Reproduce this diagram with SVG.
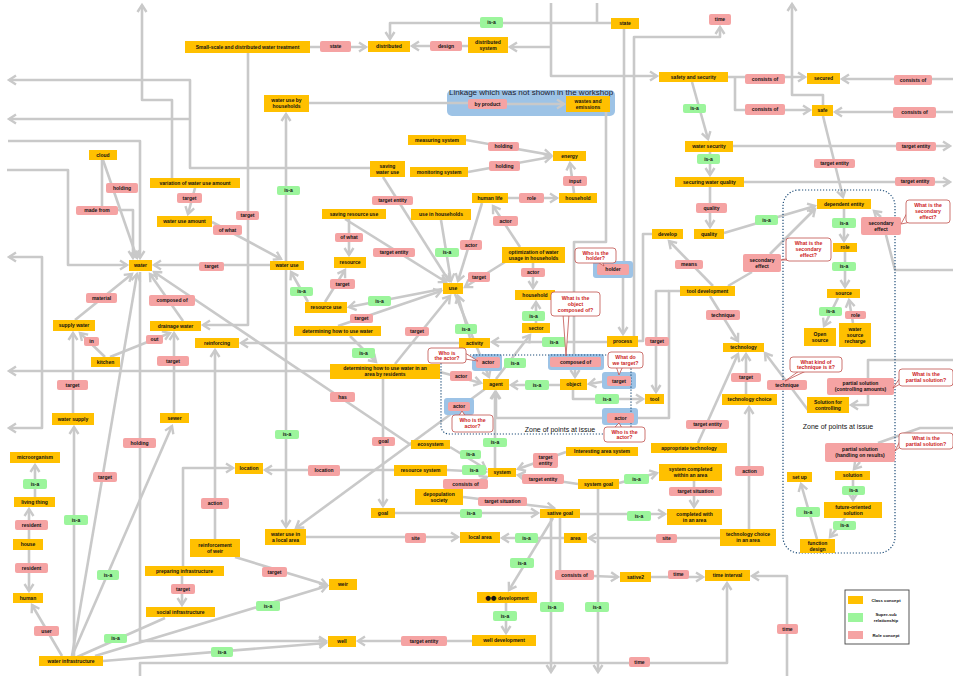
<svg xmlns="http://www.w3.org/2000/svg" width="953" height="676" viewBox="0 0 953 676">
<defs>
<marker id="ah" markerUnits="userSpaceOnUse" markerWidth="12" markerHeight="12" refX="9" refY="6" orient="auto"><path d="M2,1.5 L9,6 L2,10.5" fill="none" stroke="#c9c9c9" stroke-width="2.4"/></marker>
<marker id="ahs" markerUnits="userSpaceOnUse" markerWidth="12" markerHeight="12" refX="9" refY="6" orient="auto-start-reverse"><path d="M2,1.5 L9,6 L2,10.5" fill="none" stroke="#c9c9c9" stroke-width="2.4"/></marker>
<style>
.e{fill:none;stroke:#c9c9c9;stroke-width:2.6;stroke-linejoin:round}
.a{marker-end:url(#ah)}
.c rect{fill:#FFC000}
.r rect{fill:#F5A3A3;rx:2px}
.s rect{fill:#9CF59C;rx:2px}
.hl{fill:#9DC3E6}
text{font-family:"Liberation Sans",Arial,sans-serif}
.n text{font-size:5px;font-weight:bold;text-anchor:middle;fill:#111}
.q rect,.q polygon{fill:#fff;stroke:#C0504D;stroke-width:0.8}
.q text{font-size:5.2px;font-weight:bold;text-anchor:middle;fill:#CC2222}
.zone{fill:none;stroke:#1F4E79;stroke-width:1.2;stroke-dasharray:1.2 1.8}
.zt{font-size:7px;fill:#111;text-anchor:middle}
.lg text{font-size:4.3px;font-weight:bold;fill:#111;text-anchor:middle}
</style>
</defs>
<rect width="953" height="676" fill="#fff"/>

<!-- linkage band -->
<g id="linkage">
<rect x="447" y="90" width="168" height="26" rx="5" class="hl"/>
<text x="449" y="95" font-size="8" fill="#1a1a2e">Linkage which was not shown in the workshop</text>
</g>

<g id="connectors">
<path class="e a" d="M172,178 V100 H142 V5"/>
<path class="e a" d="M370,168 H190 V80 H9"/>
<path class="e a" d="M190,119 H9"/>
<path class="e a" d="M8,141 H140 V258"/>
<path class="e a" d="M7,170 H68 V265 H127"/>
<path class="e a" d="M118,210 H133 V258"/>
<path class="e a" d="M103,160 L137,258"/>
<path class="e" d="M102,160 V206"/>
<path class="e a" d="M195,188 L188,214"/>
<path class="e a" d="M212,222 L281,259"/>
<path class="e a" d="M248,53 V325 H203"/>
<path class="e a" d="M270,265 H154"/>
<path class="e a" d="M286,261 V114"/>
<path class="e a" d="M286,270 V527"/>
<path class="e a" d="M308,302 L291,272"/>
<path class="e" d="M309,103 H468"/>
<path class="e a" d="M507,104 H564"/>
<path class="e" d="M606,112 V242 H574 V354"/>
<path class="e a" d="M575,370 V377"/>
<path class="e a" d="M310,47 H366"/>
<path class="e a" d="M468,46 H412"/>
<path class="e a" d="M611,23 H390 V39"/>
<path class="e" d="M597,3 V23"/>
<path class="e a" d="M551,3 V76 H657"/>
<path class="e a" d="M551,47 H510"/>
<path class="e" d="M624,29 V261"/>
<path class="e a" d="M623,278 V334"/>
<path class="e a" d="M634,336 V37 H720 V27"/>
<path class="e a" d="M728,77 H805"/>
<path class="e a" d="M735,77 V110 H810"/>
<path class="e a" d="M953,79 H842"/>
<path class="e a" d="M953,112 H835"/>
<path class="e a" d="M823,105 V95 H792 V4"/>
<path class="e a" d="M823,116 L843,197"/>
<path class="e a" d="M733,146 H950"/>
<path class="e a" d="M744,182 H950"/>
<path class="e a" d="M692,82 L708,139"/>
<path class="e a" d="M710,152 V175"/>
<path class="e a" d="M710,187 V227"/>
<path class="e a" d="M724,233 L815,206"/>
<path class="e a" d="M770,254 L815,209"/>
<path class="e a" d="M713,286 L669,241"/>
<path class="e" d="M728,286 L752,272"/>
<path class="e a" d="M844,209 V241"/>
<path class="e a" d="M845,252 V287"/>
<path class="e a" d="M838,298 L824,326"/>
<path class="e a" d="M853,323 L849,300"/>
<path class="e a" d="M881,217 L874,211"/>
<path class="e" d="M886,235 L895,270 H953"/>
<path class="e a" d="M466,140 L551,155"/>
<path class="e a" d="M468,172 L551,157"/>
<path class="e a" d="M574,193 L570,163"/>
<path class="e a" d="M508,198 H557"/>
<path class="e a" d="M520,247 L493,206"/>
<path class="e a" d="M533,263 V288"/>
<path class="e a" d="M536,323 V302"/>
<path class="e a" d="M496,379 L530,335"/>
<path class="e a" d="M607,342 H492"/>
<path class="e a" d="M470,338 L458,296"/>
<path class="e a" d="M560,385 H511"/>
<path class="e a" d="M607,381 L589,384"/>
<path class="e a" d="M573,390 V399 H643"/>
<path class="e a" d="M602,418 H496 V392"/>
<path class="e" d="M680,291 H669 V418 H638"/>
<path class="e a" d="M669,291 H656 V392"/>
<path class="e" d="M652,234 H643 V341 H638"/>
<path class="e a" d="M383,177 L449,281"/>
<path class="e a" d="M349,219 V255"/>
<path class="e a" d="M345,219 L446,282"/>
<path class="e a" d="M441,220 L451,281"/>
<path class="e a" d="M482,203 L458,281"/>
<path class="e a" d="M505,262 L465,287"/>
<path class="e a" d="M395,364 L450,296"/>
<path class="e a" d="M442,289 L349,307"/>
<path class="e a" d="M338,326 L441,291"/>
<path class="e a" d="M325,302 L345,270"/>
<path class="e a" d="M350,336 L376,362"/>
<path class="e a" d="M383,379 V506"/>
<path class="e a" d="M330,371 H9"/>
<path class="e a" d="M459,343 H241"/>
<path class="e a" d="M411,445 L154,272"/>
<path class="e a" d="M450,447 L486,469"/>
<path class="e a" d="M455,294 L489,377"/>
<path class="e a" d="M440,372 L481,383"/>
<path class="e a" d="M485,389 L296,528"/>
<path class="e a" d="M495,468 V392"/>
<path class="e a" d="M447,470 L486,472"/>
<path class="e a" d="M394,470 H265"/>
<path class="e a" d="M460,489 L487,477"/>
<path class="e a" d="M566,452 L518,469"/>
<path class="e a" d="M578,484 L518,475"/>
<path class="e a" d="M619,483 L657,473"/>
<path class="e a" d="M694,481 V507"/>
<path class="e a" d="M580,514 H665"/>
<path class="e a" d="M395,513 H538"/>
<path class="e a" d="M463,497 L554,508"/>
<path class="e a" d="M553,518 L509,590"/>
<path class="e a" d="M506,603 V633"/>
<path class="e a" d="M472,641 H358"/>
<path class="e a" d="M551,518 V672"/>
<path class="e a" d="M598,489 V672"/>
<path class="e" d="M560,518 V570"/>
<path class="e a" d="M594,576 L618,577"/>
<path class="e a" d="M651,577 H703"/>
<path class="e a" d="M787,676 V576 H752"/>
<path class="e a" d="M140,676 V663 H727 V583"/>
<path class="e a" d="M140,272 V641 H326"/>
<path class="e a" d="M306,537 H458"/>
<path class="e a" d="M564,538 H502"/>
<path class="e a" d="M720,538 H589"/>
<path class="e a" d="M749,529 V407"/>
<path class="e a" d="M746,394 V354"/>
<path class="e a" d="M710,296 L738,341"/>
<path class="e a" d="M698,443 L738,354"/>
<path class="e a" d="M808,410 L765,353"/>
<path class="e a" d="M868,395 V405 H851"/>
<path class="e" d="M953,360 H868 V378"/>
<path class="e a" d="M860,462 L854,469"/>
<path class="e" d="M953,428 H920 L878,443"/>
<path class="e a" d="M853,480 V500"/>
<path class="e a" d="M845,518 L830,537"/>
<path class="e a" d="M817,539 L801,484"/>
<path class="e a" d="M183,321 L150,274"/>
<path class="e a" d="M75,320 L132,274"/>
<path class="e a" d="M105,357 L80,333"/>
<path class="e a" d="M110,357 L170,333"/>
<path class="e a" d="M73,413 V333"/>
<path class="e a" d="M174,413 V333"/>
<path class="e a" d="M74,656 V427"/>
<path class="e a" d="M72,656 L137,274"/>
<path class="e a" d="M72,656 L172,426"/>
<path class="e a" d="M62,656 L32,605"/>
<path class="e a" d="M29,539 V509"/>
<path class="e a" d="M29,550 V591"/>
<path class="e a" d="M35,497 V465"/>
<path class="e a" d="M103,661 L326,643"/>
<path class="e" d="M77,657 L165,618"/>
<path class="e a" d="M95,656 L327,586"/>
<path class="e a" d="M235,557 L327,585"/>
<path class="e a" d="M215,539 V350"/>
<path class="e a" d="M183,566 V468 H233"/>
<path class="e a" d="M182,576 V605"/>
<path class="e a" d="M9,257 H42 V428 H9" marker-start="url(#ahs)"/>
</g>

<!-- highlight boxes for points at issue -->
<g id="highlights">
<rect class="hl" x="593" y="261" width="40" height="17" rx="3"/>
<rect class="hl" x="548" y="354" width="56" height="16" rx="3"/>
<rect class="hl" x="472" y="354" width="30" height="17" rx="3"/>
<rect class="hl" x="602" y="372" width="34" height="17" rx="3"/>
<rect class="hl" x="602" y="408" width="36" height="17" rx="3"/>
<rect class="hl" x="444" y="398" width="30" height="17" rx="3"/>
</g>

<g id="zones">
<rect class="zone" x="441" y="355" width="190" height="79" rx="8"/>
<text class="zt" x="560" y="432">Zone of points at issue</text>
<rect class="zone" x="783" y="190" width="112" height="363" rx="16"/>
<text class="zt" x="838" y="429">Zone of points at issue</text>
</g>

<!-- class concepts -->
<g id="small-scale" class="n c"><rect x="185" y="41" width="125" height="12"/><text x="247.5" y="48.8">Small-scale and distributed water treatment</text></g>
<g id="distributed" class="n c"><rect x="368" y="41" width="42" height="11"/><text x="389" y="48.3">distributed</text></g>
<g id="distributed-system" class="n c"><rect x="468" y="37" width="40" height="16"/><text x="488" y="43.8">distributed</text><text x="488" y="49.8">system</text></g>
<g id="state" class="n c"><rect x="611" y="18" width="28" height="11"/><text x="625" y="25.3">state</text></g>
<g id="safety-security" class="n c"><rect x="659" y="72" width="69" height="10"/><text x="693.5" y="78.8">safety and security</text></g>
<g id="secured" class="n c"><rect x="807" y="73" width="33" height="11"/><text x="823.5" y="80.3">secured</text></g>
<g id="safe" class="n c"><rect x="812" y="105" width="21" height="11"/><text x="822.5" y="112.3">safe</text></g>
<g id="water-security" class="n c"><rect x="685" y="141" width="48" height="11"/><text x="709" y="148.3">water security</text></g>
<g id="securing-quality" class="n c"><rect x="675" y="177" width="69" height="10"/><text x="709.5" y="183.8">securing water quality</text></g>
<g id="quality" class="n c"><rect x="694" y="229" width="30" height="10"/><text x="709" y="235.8">quality</text></g>
<g id="develop" class="n c"><rect x="652" y="229" width="31" height="10"/><text x="667.5" y="235.8">develop</text></g>
<g id="dependent-entity" class="n c"><rect x="817" y="199" width="54" height="10"/><text x="844" y="205.8">dependent entity</text></g>
<g id="role" class="n c"><rect x="833" y="243" width="24" height="9"/><text x="845" y="249.3">role</text></g>
<g id="source" class="n c"><rect x="827" y="289" width="33" height="9"/><text x="843.5" y="295.3">source</text></g>
<g id="open-source" class="n c"><rect x="804" y="328" width="32" height="18"/><text x="820" y="335.8">Open</text><text x="820" y="341.8">source</text></g>
<g id="water-source-recharge" class="n c"><rect x="839" y="323" width="32" height="24"/><text x="855" y="330.8">water</text><text x="855" y="336.8">source</text><text x="855" y="342.8">recharge</text></g>
<g id="wastes" class="n c"><rect x="566" y="96" width="44" height="16"/><text x="588" y="102.8">wastes and</text><text x="588" y="108.8">emissions</text></g>
<g id="water-use-households" class="n c"><rect x="264" y="95" width="45" height="17"/><text x="286.5" y="102.3">water use by</text><text x="286.5" y="108.3">households</text></g>
<g id="measuring-system" class="n c"><rect x="408" y="135" width="58" height="10"/><text x="437" y="141.8">measuring system</text></g>
<g id="energy" class="n c"><rect x="553" y="151" width="33" height="10"/><text x="569.5" y="157.8">energy</text></g>
<g id="monitoring-system" class="n c"><rect x="410" y="167" width="58" height="10"/><text x="439" y="173.8">monitoring system</text></g>
<g id="saving-water-use" class="n c"><rect x="370" y="161" width="35" height="16"/><text x="387.5" y="167.8">saving</text><text x="387.5" y="173.8">water use</text></g>
<g id="human-life" class="n c"><rect x="472" y="193" width="36" height="10"/><text x="490" y="199.8">human life</text></g>
<g id="household-top" class="n c"><rect x="559" y="193" width="38" height="10"/><text x="578" y="199.8">household</text></g>
<g id="saving-resource-use" class="n c"><rect x="322" y="209" width="64" height="10"/><text x="354" y="215.8">saving resource use</text></g>
<g id="use-in-households" class="n c"><rect x="411" y="209" width="60" height="11"/><text x="441" y="216.3">use in households</text></g>
<g id="cloud" class="n c"><rect x="89" y="150" width="28" height="10"/><text x="103" y="156.8">cloud</text></g>
<g id="variation" class="n c"><rect x="150" y="178" width="90" height="10"/><text x="195" y="184.8">variation of water use amount</text></g>
<g id="water-use-amount" class="n c"><rect x="157" y="216" width="55" height="11"/><text x="184.5" y="223.3">water use amount</text></g>
<g id="water" class="n c"><rect x="129" y="260" width="23" height="11"/><text x="140.5" y="267.3">water</text></g>
<g id="water-use" class="n c"><rect x="270" y="261" width="34" height="9"/><text x="287" y="267.3">water use</text></g>
<g id="resource" class="n c"><rect x="334" y="257" width="32" height="11"/><text x="350" y="264.3">resource</text></g>
<g id="use" class="n c"><rect x="443" y="283" width="20" height="11"/><text x="453" y="290.3">use</text></g>
<g id="resource-use" class="n c"><rect x="305" y="302" width="42" height="11"/><text x="326" y="309.3">resource use</text></g>
<g id="determining-water" class="n c"><rect x="294" y="326" width="87" height="10"/><text x="337.5" y="332.8">determining how to use water</text></g>
<g id="determining-area" class="n c"><rect x="330" y="364" width="110" height="15"/><text x="385" y="370.3">determining how to use water in an</text><text x="385" y="376.3">area by residents</text></g>
<g id="activity" class="n c"><rect x="459" y="338" width="31" height="10"/><text x="474.5" y="344.8">activity</text></g>
<g id="optimization" class="n c"><rect x="502" y="247" width="63" height="16"/><text x="533.5" y="253.8">optimization of water</text><text x="533.5" y="259.8">usage in households</text></g>
<g id="household-mid" class="n c"><rect x="515" y="290" width="40" height="10"/><text x="535" y="296.8">household</text></g>
<g id="sector" class="n c"><rect x="522" y="323" width="28" height="10"/><text x="536" y="329.8">sector</text></g>
<g id="process" class="n c"><rect x="607" y="336" width="31" height="11"/><text x="622.5" y="343.3">process</text></g>
<g id="tool-development" class="n c"><rect x="680" y="286" width="55" height="10"/><text x="707.5" y="292.8">tool development</text></g>
<g id="agent" class="n c"><rect x="483" y="379" width="26" height="11"/><text x="496" y="386.3">agent</text></g>
<g id="object" class="n c"><rect x="560" y="379" width="27" height="11"/><text x="573.5" y="386.3">object</text></g>
<g id="tool" class="n c"><rect x="645" y="394" width="19" height="10"/><text x="654.5" y="400.8">tool</text></g>
<g id="technology" class="n c"><rect x="723" y="343" width="41" height="9"/><text x="743.5" y="349.3">technology</text></g>
<g id="technology-choice" class="n c"><rect x="722" y="394" width="55" height="11"/><text x="749.5" y="401.3">technology choice</text></g>
<g id="solution-controlling" class="n c"><rect x="807" y="397" width="42" height="16"/><text x="828" y="403.8">Solution for</text><text x="828" y="409.8">controlling</text></g>
<g id="ecosystem" class="n c"><rect x="411" y="440" width="39" height="9"/><text x="430.5" y="446.3">ecosystem</text></g>
<g id="supply-water" class="n c"><rect x="53" y="320" width="42" height="11"/><text x="74" y="327.3">supply water</text></g>
<g id="drainage-water" class="n c"><rect x="150" y="321" width="51" height="10"/><text x="175.5" y="327.8">drainage water</text></g>
<g id="reinforcing" class="n c"><rect x="195" y="338" width="44" height="10"/><text x="217" y="344.8">reinforcing</text></g>
<g id="kitchen" class="n c"><rect x="91" y="357" width="29" height="10"/><text x="105.5" y="363.8">kitchen</text></g>
<g id="water-supply" class="n c"><rect x="52" y="413" width="42" height="12"/><text x="73" y="420.8">water supply</text></g>
<g id="sewer" class="n c"><rect x="160" y="413" width="29" height="10"/><text x="174.5" y="419.8">sewer</text></g>
<g id="microorganism" class="n c"><rect x="10" y="452" width="50" height="11"/><text x="35" y="459.3">microorganism</text></g>
<g id="living-thing" class="n c"><rect x="14" y="497" width="41" height="10"/><text x="34.5" y="503.8">living thing</text></g>
<g id="house" class="n c"><rect x="13" y="539" width="30" height="11"/><text x="28" y="546.3">house</text></g>
<g id="human" class="n c"><rect x="13" y="593" width="30" height="10"/><text x="28" y="599.8">human</text></g>
<g id="water-infrastructure" class="n c"><rect x="39" y="656" width="64" height="10"/><text x="71" y="662.8">water infrastructure</text></g>
<g id="reinforcement-weir" class="n c"><rect x="190" y="539" width="50" height="18"/><text x="215" y="546.8">reinforcement</text><text x="215" y="552.8">of weir</text></g>
<g id="preparing-infrastructure" class="n c"><rect x="145" y="566" width="79" height="10"/><text x="184.5" y="572.8">preparing infrastructure</text></g>
<g id="social-infrastructure" class="n c"><rect x="146" y="607" width="69" height="10"/><text x="180.5" y="613.8">social infrastructure</text></g>
<g id="location" class="n c"><rect x="235" y="463" width="28" height="11"/><text x="249" y="470.3">location</text></g>
<g id="resource-system" class="n c"><rect x="394" y="465" width="53" height="11"/><text x="420.5" y="472.3">resource system</text></g>
<g id="depopulation-society" class="n c"><rect x="415" y="489" width="48" height="16"/><text x="439" y="495.8">depopulation</text><text x="439" y="501.8">society</text></g>
<g id="goal" class="n c"><rect x="371" y="508" width="24" height="10"/><text x="383" y="514.8">goal</text></g>
<g id="water-use-local" class="n c"><rect x="265" y="529" width="41" height="16"/><text x="285.5" y="535.8">water use in</text><text x="285.5" y="541.8">a local area</text></g>
<g id="local-area" class="n c"><rect x="460" y="532" width="40" height="11"/><text x="480" y="539.3">local area</text></g>
<g id="weir" class="n c"><rect x="329" y="579" width="28" height="11"/><text x="343" y="586.3">weir</text></g>
<g id="well" class="n c"><rect x="328" y="636" width="28" height="11"/><text x="342" y="643.3">well</text></g>
<g id="well-development" class="n c"><rect x="472" y="635" width="64" height="11"/><text x="504" y="642.3">well development</text></g>
<g id="interesting-area-system" class="n c"><rect x="566" y="447" width="72" height="9"/><text x="602" y="453.3">Interesting area system</text></g>
<g id="system" class="n c"><rect x="488" y="468" width="28" height="9"/><text x="502" y="474.3">system</text></g>
<g id="system-goal" class="n c"><rect x="578" y="479" width="41" height="10"/><text x="598.5" y="485.8">system goal</text></g>
<g id="system-completed" class="n c"><rect x="659" y="464" width="63" height="17"/><text x="690.5" y="471.3">system completed</text><text x="690.5" y="477.3">within an area</text></g>
<g id="completed" class="n c"><rect x="667" y="509" width="55" height="16"/><text x="694.5" y="515.8">completed with</text><text x="694.5" y="521.8">in an area</text></g>
<g id="sative-goal" class="n c"><rect x="540" y="509" width="40" height="9"/><text x="560" y="515.3">sative goal</text></g>
<g id="area" class="n c"><rect x="564" y="533" width="23" height="10"/><text x="575.5" y="539.8">area</text></g>
<g id="sative2" class="n c"><rect x="620" y="572" width="31" height="10"/><text x="635.5" y="578.8">sative2</text></g>
<g id="time-interval" class="n c"><rect x="705" y="570" width="45" height="11"/><text x="727.5" y="577.3">time interval</text></g>
<g id="dev" class="n c"><rect x="477" y="592" width="60" height="11"/><text x="507" y="599.8"><tspan font-family="DejaVu Sans, sans-serif" font-size="6.5">●●</tspan> development</text></g>
<g id="appropriate-technology" class="n c"><rect x="651" y="443" width="76" height="10"/><text x="689" y="449.8">appropriate technology</text></g>
<g id="technology-choice-area" class="n c"><rect x="720" y="529" width="56" height="17"/><text x="748" y="536.3">technology choice</text><text x="748" y="542.3">in an area</text></g>
<g id="solution" class="n c"><rect x="835" y="471" width="35" height="9"/><text x="852.5" y="477.3">solution</text></g>
<g id="future-oriented" class="n c"><rect x="824" y="502" width="58" height="16"/><text x="853" y="508.8">future-oriented</text><text x="853" y="514.8">solution</text></g>
<g id="set-up" class="n c"><rect x="787" y="472" width="25" height="10"/><text x="799.5" y="478.8">set up</text></g>
<g id="function-design" class="n c"><rect x="800" y="539" width="35" height="14"/><text x="817.5" y="544.8">function</text><text x="817.5" y="550.8">design</text></g>

<!-- role concepts -->
<g id="r-state" class="n r"><rect x="320" y="41" width="31" height="11"/><text x="335.5" y="48.3">state</text></g>
<g id="r-design" class="n r"><rect x="430" y="41" width="32" height="10"/><text x="446" y="47.8">design</text></g>
<g id="r-time-top" class="n r"><rect x="709" y="14" width="22" height="11"/><text x="720" y="21.3">time</text></g>
<g id="r-consists1" class="n r"><rect x="745" y="74" width="40" height="10"/><text x="765" y="80.8">consists of</text></g>
<g id="r-consists2" class="n r"><rect x="894" y="75" width="38" height="10"/><text x="913" y="81.8">consists of</text></g>
<g id="r-consists3" class="n r"><rect x="745" y="104" width="40" height="11"/><text x="765" y="111.3">consists of</text></g>
<g id="r-consists4" class="n r"><rect x="893" y="107" width="43" height="11"/><text x="914.5" y="114.3">consists of</text></g>
<g id="r-te-ws" class="n r"><rect x="896" y="142" width="40" height="9"/><text x="916" y="148.3">target entity</text></g>
<g id="r-te-sq" class="n r"><rect x="895" y="177" width="40" height="9"/><text x="915" y="183.3">target entity</text></g>
<g id="r-te-safe" class="n r"><rect x="814" y="159" width="41" height="9"/><text x="834.5" y="165.3">target entity</text></g>
<g id="r-quality" class="n r"><rect x="696" y="203" width="31" height="10"/><text x="711.5" y="209.8">quality</text></g>
<g id="r-secondary-right" class="n r"><rect x="861" y="217" width="40" height="18"/><text x="881" y="224.8">secondary</text><text x="881" y="230.8">effect</text></g>
<g id="r-by-product" class="n r"><rect x="468" y="99" width="39" height="10"/><text x="487.5" y="105.8">by product</text></g>
<g id="r-holding1" class="n r"><rect x="488" y="142" width="31" height="9"/><text x="503.5" y="148.3">holding</text></g>
<g id="r-holding2" class="n r"><rect x="489" y="161" width="31" height="10"/><text x="504.5" y="167.8">holding</text></g>
<g id="r-input" class="n r"><rect x="563" y="176" width="24" height="10"/><text x="575" y="182.8">input</text></g>
<g id="r-role" class="n r"><rect x="519" y="193" width="25" height="10"/><text x="531.5" y="199.8">role</text></g>
<g id="r-actor-hl" class="n r"><rect x="493" y="216" width="25" height="10"/><text x="505.5" y="222.8">actor</text></g>
<g id="r-te-sw" class="n r"><rect x="372" y="196" width="41" height="9"/><text x="392.5" y="202.3">target entity</text></g>
<g id="r-holding-c" class="n r"><rect x="106" y="183" width="32" height="10"/><text x="122" y="189.8">holding</text></g>
<g id="r-made-from" class="n r"><rect x="76" y="206" width="42" height="9"/><text x="97" y="212.3">made from</text></g>
<g id="r-target-var" class="n r"><rect x="177" y="193" width="25" height="10"/><text x="189.5" y="199.8">target</text></g>
<g id="r-target-ss" class="n r"><rect x="236" y="211" width="23" height="9"/><text x="247.5" y="217.3">target</text></g>
<g id="r-of-what1" class="n r"><rect x="213" y="225" width="29" height="10"/><text x="227.5" y="231.8">of what</text></g>
<g id="r-target-water" class="n r"><rect x="199" y="262" width="25" height="9"/><text x="211.5" y="268.3">target</text></g>
<g id="r-of-what2" class="n r"><rect x="335" y="233" width="28" height="9"/><text x="349" y="239.3">of what</text></g>
<g id="r-te-sr" class="n r"><rect x="373" y="248" width="42" height="9"/><text x="394" y="254.3">target entity</text></g>
<g id="r-actor-use" class="n r"><rect x="460" y="240" width="22" height="10"/><text x="471" y="246.8">actor</text></g>
<g id="r-target-res" class="n r"><rect x="330" y="279" width="25" height="10"/><text x="342.5" y="285.8">target</text></g>
<g id="r-target-opt" class="n r"><rect x="468" y="272" width="22" height="10"/><text x="479" y="278.8">target</text></g>
<g id="r-target-dw" class="n r"><rect x="350" y="314" width="23" height="9"/><text x="361.5" y="320.3">target</text></g>
<g id="r-target-da" class="n r"><rect x="405" y="327" width="24" height="9"/><text x="417" y="333.3">target</text></g>
<g id="r-has" class="n r"><rect x="330" y="392" width="25" height="10"/><text x="342.5" y="398.8">has</text></g>
<g id="r-goal" class="n r"><rect x="372" y="437" width="23" height="9"/><text x="383.5" y="443.3">goal</text></g>
<g id="r-means" class="n r"><rect x="675" y="260" width="28" height="9"/><text x="689" y="266.3">means</text></g>
<g id="r-actor-opt" class="n r"><rect x="521" y="268" width="24" height="9"/><text x="533" y="274.3">actor</text></g>
<g id="r-holder" class="n r"><rect x="597" y="264" width="32" height="11"/><text x="613" y="271.3">holder</text></g>
<g id="r-target-tool" class="n r"><rect x="645" y="337" width="24" height="9"/><text x="657" y="343.3">target</text></g>
<g id="r-technique1" class="n r"><rect x="706" y="310" width="34" height="10"/><text x="723" y="316.8">technique</text></g>
<g id="r-composed-box" class="n r"><rect x="550" y="357" width="51" height="10"/><text x="575.5" y="363.8">composed of</text></g>
<g id="r-actor-b1" class="n r"><rect x="476" y="357" width="24" height="11"/><text x="488" y="364.3">actor</text></g>
<g id="r-actor-left" class="n r"><rect x="450" y="371" width="22" height="10"/><text x="461" y="377.8">actor</text></g>
<g id="r-target-box" class="n r"><rect x="607" y="376" width="24" height="10"/><text x="619" y="382.8">target</text></g>
<g id="r-actor-b2" class="n r"><rect x="607" y="413" width="27" height="10"/><text x="620.5" y="419.8">actor</text></g>
<g id="r-actor-b3" class="n r"><rect x="448" y="402" width="22" height="9"/><text x="459" y="408.3">actor</text></g>
<g id="r-te-app" class="n r"><rect x="686" y="420" width="43" height="9"/><text x="707.5" y="426.3">target entity</text></g>
<g id="r-secondary-left" class="n r"><rect x="743" y="254" width="38" height="18"/><text x="762" y="261.8">secondary</text><text x="762" y="267.8">effect</text></g>
<g id="r-role-src" class="n r"><rect x="845" y="311" width="21" height="8"/><text x="855.5" y="316.8">role</text></g>
<g id="r-target-tech" class="n r"><rect x="731" y="373" width="30" height="9"/><text x="746" y="379.3">target</text></g>
<g id="r-technique2" class="n r"><rect x="767" y="380" width="40" height="10"/><text x="787" y="386.8">technique</text></g>
<g id="r-partial1" class="n r"><rect x="827" y="378" width="67" height="17"/><text x="860.5" y="385.3">partial solution</text><text x="860.5" y="391.3">(controlling amounts)</text></g>
<g id="r-partial2" class="n r"><rect x="825" y="443" width="70" height="19"/><text x="860" y="451.3">partial solution</text><text x="860" y="457.3">(handling on results)</text></g>
<g id="r-material" class="n r"><rect x="86" y="293" width="31" height="10"/><text x="101.5" y="299.8">material</text></g>
<g id="r-composed-w" class="n r"><rect x="149" y="295" width="46" height="11"/><text x="172" y="302.3">composed of</text></g>
<g id="r-in" class="n r"><rect x="84" y="337" width="15" height="9"/><text x="91.5" y="343.3">in</text></g>
<g id="r-out" class="n r"><rect x="146" y="335" width="17" height="9"/><text x="154.5" y="341.3">out</text></g>
<g id="r-target-dw2" class="n r"><rect x="157" y="356" width="32" height="10"/><text x="173" y="362.8">target</text></g>
<g id="r-target-ws" class="n r"><rect x="57" y="380" width="31" height="10"/><text x="72.5" y="386.8">target</text></g>
<g id="r-holding-w" class="n r"><rect x="123" y="438" width="33" height="10"/><text x="139.5" y="444.8">holding</text></g>
<g id="r-target-wi" class="n r"><rect x="93" y="472" width="24" height="10"/><text x="105" y="478.8">target</text></g>
<g id="r-resident1" class="n r"><rect x="15" y="520" width="33" height="10"/><text x="31.5" y="526.8">resident</text></g>
<g id="r-resident2" class="n r"><rect x="15" y="563" width="33" height="10"/><text x="31.5" y="569.8">resident</text></g>
<g id="r-user" class="n r"><rect x="34" y="626" width="25" height="10"/><text x="46.5" y="632.8">user</text></g>
<g id="r-action-rw" class="n r"><rect x="201" y="498" width="28" height="11"/><text x="215" y="505.3">action</text></g>
<g id="r-target-pi" class="n r"><rect x="171" y="584" width="24" height="10"/><text x="183" y="590.8">target</text></g>
<g id="r-location" class="n r"><rect x="308" y="465" width="32" height="11"/><text x="324" y="472.3">location</text></g>
<g id="r-consists-sys" class="n r"><rect x="443" y="479" width="45" height="10"/><text x="465.5" y="485.8">consists of</text></g>
<g id="r-site1" class="n r"><rect x="405" y="533" width="21" height="10"/><text x="415.5" y="539.8">site</text></g>
<g id="r-target-rw" class="n r"><rect x="262" y="567" width="25" height="10"/><text x="274.5" y="573.8">target</text></g>
<g id="r-te-well" class="n r"><rect x="401" y="636" width="46" height="10"/><text x="424" y="642.8">target entity</text></g>
<g id="r-te-ias" class="n r"><rect x="533" y="453" width="25" height="15"/><text x="545.5" y="459.3">target</text><text x="545.5" y="465.3">entity</text></g>
<g id="r-te-sg" class="n r"><rect x="522" y="474" width="42" height="10"/><text x="543" y="480.8">target entity</text></g>
<g id="r-ts1" class="n r"><rect x="669" y="487" width="53" height="9"/><text x="695.5" y="493.3">target situation</text></g>
<g id="r-ts2" class="n r"><rect x="478" y="497" width="49" height="9"/><text x="502.5" y="503.3">target situation</text></g>
<g id="r-site2" class="n r"><rect x="656" y="534" width="21" height="9"/><text x="666.5" y="540.3">site</text></g>
<g id="r-consists-sg" class="n r"><rect x="555" y="570" width="39" height="10"/><text x="574.5" y="576.8">consists of</text></g>
<g id="r-time-s2" class="n r"><rect x="668" y="570" width="21" height="9"/><text x="678.5" y="576.3">time</text></g>
<g id="r-time-bottom" class="n r"><rect x="629" y="657" width="21" height="10"/><text x="639.5" y="663.8">time</text></g>
<g id="r-time-right" class="n r"><rect x="777" y="624" width="21" height="10"/><text x="787.5" y="630.8">time</text></g>
<g id="r-action-tc" class="n r"><rect x="735" y="466" width="29" height="10"/><text x="749.5" y="472.8">action</text></g>

<!-- super-sub relationships -->
<g id="s-state" class="n s"><rect x="480" y="17" width="23" height="11"/><text x="491.5" y="24.3">is-a</text></g>
<g id="s-safety" class="n s"><rect x="683" y="104" width="23" height="9"/><text x="694.5" y="110.3">is-a</text></g>
<g id="s-ws" class="n s"><rect x="697" y="154" width="23" height="10"/><text x="708.5" y="160.8">is-a</text></g>
<g id="s-quality" class="n s"><rect x="755" y="215" width="23" height="10"/><text x="766.5" y="221.8">is-a</text></g>
<g id="s-dep" class="n s"><rect x="832" y="218" width="24" height="10"/><text x="844" y="224.8">is-a</text></g>
<g id="s-role" class="n s"><rect x="832" y="262" width="24" height="9"/><text x="844" y="268.3">is-a</text></g>
<g id="s-src" class="n s"><rect x="819" y="307" width="23" height="9"/><text x="830.5" y="313.3">is-a</text></g>
<g id="s-wu" class="n s"><rect x="277" y="186" width="23" height="9"/><text x="288.5" y="192.3">is-a</text></g>
<g id="s-ru" class="n s"><rect x="290" y="287" width="23" height="9"/><text x="301.5" y="293.3">is-a</text></g>
<g id="s-uih" class="n s"><rect x="435" y="248" width="24" height="9"/><text x="447" y="254.3">is-a</text></g>
<g id="s-ru-use" class="n s"><rect x="368" y="296" width="23" height="10"/><text x="379.5" y="302.8">is-a</text></g>
<g id="s-act" class="n s"><rect x="455" y="324" width="22" height="10"/><text x="466" y="330.8">is-a</text></g>
<g id="s-det" class="n s"><rect x="352" y="348" width="23" height="10"/><text x="363.5" y="354.8">is-a</text></g>
<g id="s-sector" class="n s"><rect x="522" y="311" width="23" height="10"/><text x="533.5" y="317.8">is-a</text></g>
<g id="s-process" class="n s"><rect x="542" y="337" width="24" height="10"/><text x="554" y="343.8">is-a</text></g>
<g id="s-agent-sector" class="n s"><rect x="504" y="358" width="22" height="10"/><text x="515" y="364.8">is-a</text></g>
<g id="s-obj" class="n s"><rect x="525" y="380" width="24" height="10"/><text x="537" y="386.8">is-a</text></g>
<g id="s-tool" class="n s"><rect x="595" y="394" width="24" height="10"/><text x="607" y="400.8">is-a</text></g>
<g id="s-wul" class="n s"><rect x="275" y="430" width="24" height="9"/><text x="287" y="436.3">is-a</text></g>
<g id="s-sys-agent" class="n s"><rect x="483" y="438" width="24" height="9"/><text x="495" y="444.3">is-a</text></g>
<g id="s-eco" class="n s"><rect x="460" y="450" width="21" height="9"/><text x="470.5" y="456.3">is-a</text></g>
<g id="s-rs" class="n s"><rect x="462" y="465" width="24" height="10"/><text x="474" y="471.8">is-a</text></g>
<g id="s-goal" class="n s"><rect x="460" y="509" width="22" height="9"/><text x="471" y="515.3">is-a</text></g>
<g id="s-sg" class="n s"><rect x="624" y="474" width="25" height="10"/><text x="636.5" y="480.8">is-a</text></g>
<g id="s-sative" class="n s"><rect x="627" y="511" width="24" height="10"/><text x="639" y="517.8">is-a</text></g>
<g id="s-area" class="n s"><rect x="515" y="533" width="23" height="10"/><text x="526.5" y="539.8">is-a</text></g>
<g id="s-dev" class="n s"><rect x="510" y="558" width="24" height="10"/><text x="522" y="564.8">is-a</text></g>
<g id="s-dd" class="n s"><rect x="493" y="611" width="24" height="10"/><text x="505" y="617.8">is-a</text></g>
<g id="s-sat-down" class="n s"><rect x="540" y="602" width="24" height="10"/><text x="552" y="608.8">is-a</text></g>
<g id="s-sg-down" class="n s"><rect x="585" y="602" width="24" height="10"/><text x="597" y="608.8">is-a</text></g>
<g id="s-micro" class="n s"><rect x="23" y="479" width="24" height="10"/><text x="35" y="485.8">is-a</text></g>
<g id="s-ws-wi" class="n s"><rect x="64" y="515" width="24" height="10"/><text x="76" y="521.8">is-a</text></g>
<g id="s-sewer" class="n s"><rect x="97" y="570" width="22" height="10"/><text x="108" y="576.8">is-a</text></g>
<g id="s-social" class="n s"><rect x="104" y="634" width="23" height="9"/><text x="115.5" y="640.3">is-a</text></g>
<g id="s-well" class="n s"><rect x="211" y="647" width="22" height="10"/><text x="222" y="653.8">is-a</text></g>
<g id="s-weir" class="n s"><rect x="256" y="601" width="24" height="10"/><text x="268" y="607.8">is-a</text></g>
<g id="s-sol" class="n s"><rect x="842" y="486" width="23" height="9"/><text x="853.5" y="492.3">is-a</text></g>
<g id="s-fut" class="n s"><rect x="833" y="521" width="23" height="9"/><text x="844.5" y="527.3">is-a</text></g>
<g id="s-setup" class="n s"><rect x="796" y="507" width="24" height="10"/><text x="808" y="513.8">is-a</text></g>

<!-- question callouts -->
<g id="q-secondary-right" class="q"><polygon points="907,213 901,224 911,222"/><rect x="906" y="200" width="44" height="23" rx="3"/><text x="928" y="207">What  is the</text><text x="928" y="213">secondary</text><text x="928" y="219">effect?</text></g>
<g id="q-secondary-left" class="q"><polygon points="790,258 781,260 797,260"/><rect x="786" y="238" width="45" height="23" rx="3"/><text x="808.5" y="245">What  is the</text><text x="808.5" y="251">secondary</text><text x="808.5" y="257">effect?</text></g>
<g id="q-holder" class="q"><polygon points="596,261 604,266 602,261"/><rect x="575" y="248" width="41" height="15" rx="3"/><text x="595.5" y="254.5">Who is the</text><text x="595.5" y="260.3">holder?</text></g>
<g id="q-object" class="q"><polygon points="563,314 566,356 569,314"/><rect x="551" y="292" width="49" height="24" rx="3"/><text x="575.5" y="299.5">What  is the</text><text x="575.5" y="305.5">object</text><text x="575.5" y="311.5">composed of?</text></g>
<g id="q-actor1" class="q"><polygon points="465,353 478,361 465,359"/><rect x="428" y="348" width="38" height="15" rx="3"/><text x="447" y="354.5">Who is</text><text x="447" y="360.3">the actor?</text></g>
<g id="q-target" class="q"><polygon points="616,366 619,375 623,366"/><rect x="608" y="352" width="35" height="16" rx="3"/><text x="625.5" y="358.8">What  do</text><text x="625.5" y="364.6">we target?</text></g>
<g id="q-actor2" class="q"><polygon points="458,417 462,411 466,417"/><rect x="452" y="415" width="41" height="17" rx="3"/><text x="472.5" y="422.3">Who is the</text><text x="472.5" y="428.1">actor?</text></g>
<g id="q-actor3" class="q"><polygon points="614,428 619,423 622,428"/><rect x="604" y="427" width="41" height="15" rx="3"/><text x="624.5" y="433.5">Who is the</text><text x="624.5" y="439.3">actor?</text></g>
<g id="q-technique" class="q"><polygon points="799,371 785,381 806,371"/><rect x="790" y="357" width="52" height="15" rx="3"/><text x="816" y="363.5">What kind of</text><text x="816" y="369.3">technique is it?</text></g>
<g id="q-partial1" class="q"><polygon points="900,378 893,388 900,384"/><rect x="899" y="369" width="54" height="17" rx="3"/><text x="926" y="376.3">What  is the</text><text x="926" y="382.1">partial solution?</text></g>
<g id="q-partial2" class="q"><polygon points="900,441 895,451 900,447"/><rect x="899" y="433" width="54" height="16" rx="3"/><text x="926" y="439.8">What  is the</text><text x="926" y="445.6">partial solution?</text></g>

<!-- legend -->
<g id="legend" class="lg">
<rect x="845" y="590" width="64" height="54" fill="#fff" stroke="#444" stroke-width="0.9"/>
<rect x="848" y="596" width="15" height="8" fill="#FFC000"/>
<rect x="848" y="613" width="15" height="9" fill="#9CF59C"/>
<rect x="848" y="631" width="15" height="8" fill="#F5A3A3"/>
<text x="886" y="601.5">Class concept</text>
<text x="886" y="616">Super-sub</text>
<text x="886" y="621.5">relationship</text>
<text x="886" y="636.5">Role concept</text>
</g>
</svg>
